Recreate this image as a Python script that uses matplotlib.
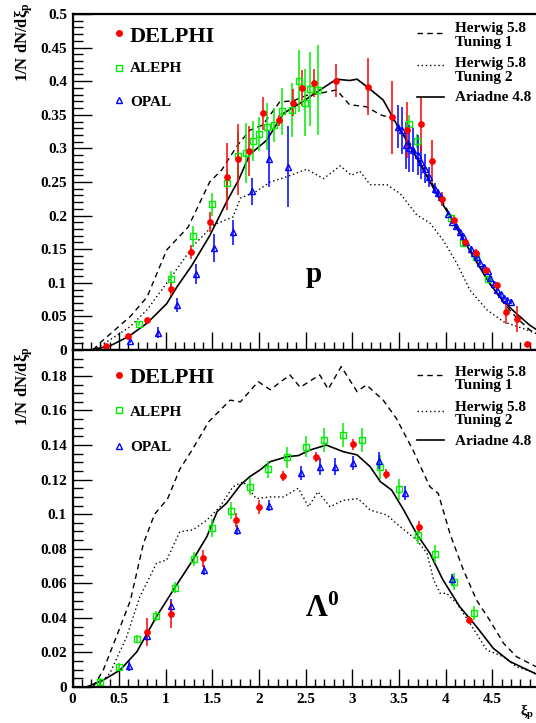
import matplotlib
matplotlib.use('Agg')
import matplotlib.pyplot as plt
from matplotlib.ticker import MultipleLocator, FuncFormatter

plt.rcParams['font.family'] = ['Liberation Serif', 'DejaVu Serif']
plt.rcParams['font.weight'] = 'bold'
plt.rcParams['mathtext.fontset'] = 'custom'
plt.rcParams['mathtext.rm'] = 'Liberation Serif:bold'
plt.rcParams['mathtext.it'] = 'Liberation Serif:italic:bold'
plt.rcParams['mathtext.bf'] = 'Liberation Serif:bold'

# ---------------- proton panel data ----------------
p_delphi_x = [0.36, 0.60, 0.80, 1.06, 1.27, 1.47, 1.66, 1.77, 1.89, 2.04, 2.21, 2.36, 2.46, 2.59, 2.82,
              3.17, 3.42, 3.59, 3.74, 3.85, 3.96, 4.09, 4.21, 4.32, 4.43, 4.55, 4.65, 4.76, 4.87]
p_delphi_y = [0.006, 0.021, 0.044, 0.091, 0.146, 0.190, 0.258, 0.284, 0.296, 0.352, 0.342, 0.368, 0.390, 0.397, 0.401,
              0.392, 0.346, 0.327, 0.336, 0.281, 0.225, 0.193, 0.160, 0.145, 0.119, 0.096, 0.056, 0.046, 0.009]
p_delphi_e = [0.003, 0.003, 0.004, 0.010, 0.010, 0.015, 0.050, 0.053, 0.037, 0.025, 0.008, 0.020, 0.027, 0.021, 0.025,
              0.042, 0.055, 0.042, 0.041, 0.031, 0.010, 0.006, 0.005, 0.005, 0.005, 0.005, 0.017, 0.019, 0.003]

p_aleph_x = [0.71, 1.06, 1.29, 1.49, 1.66, 1.77, 1.86, 1.93, 2.00, 2.08, 2.16, 2.25, 2.35, 2.43, 2.49, 2.55, 2.63,
             3.61, 3.69, 4.06, 4.19, 4.32, 4.45]
p_aleph_y = [0.039, 0.106, 0.169, 0.217, 0.248, 0.289, 0.293, 0.311, 0.321, 0.332, 0.335, 0.355, 0.357, 0.400, 0.368,
             0.389, 0.387, 0.337, 0.311, 0.197, 0.159, 0.139, 0.105]
p_aleph_e = [0.004, 0.012, 0.016, 0.017, 0.020, 0.035, 0.045, 0.030, 0.025, 0.035, 0.025, 0.035, 0.040, 0.046, 0.050,
             0.055, 0.067, 0.012, 0.010, 0.005, 0.005, 0.005, 0.005]

p_opal_x = [0.62, 0.92, 1.12, 1.32, 1.52, 1.72, 1.92, 2.11, 2.31, 3.49, 3.53, 3.57, 3.61, 3.65, 3.70, 3.74, 3.78,
            3.82, 3.89, 3.92, 3.95, 4.02, 4.07, 4.11, 4.15, 4.19, 4.22, 4.27, 4.30, 4.34, 4.37, 4.41, 4.45, 4.48,
            4.52, 4.55, 4.59, 4.62, 4.66, 4.70]
p_opal_y = [0.014, 0.026, 0.067, 0.113, 0.152, 0.175, 0.236, 0.284, 0.273, 0.332, 0.327, 0.305, 0.300, 0.298, 0.290,
            0.280, 0.270, 0.258, 0.240, 0.233, 0.228, 0.203, 0.191, 0.184, 0.176, 0.169, 0.161, 0.151, 0.144, 0.138,
            0.130, 0.124, 0.117, 0.107, 0.098, 0.090, 0.083, 0.078, 0.074, 0.072]
p_opal_e = [0.004, 0.008, 0.010, 0.015, 0.021, 0.019, 0.020, 0.042, 0.060, 0.032, 0.035, 0.035, 0.035, 0.033, 0.030,
            0.025, 0.022, 0.015, 0.008, 0.006, 0.005, 0.004, 0.004, 0.004, 0.004, 0.004, 0.004, 0.004, 0.004, 0.004,
            0.004, 0.004, 0.004, 0.004, 0.004, 0.004, 0.004, 0.004, 0.004, 0.004]

p_ari_x = [0.19, 0.40, 0.60, 0.80, 1.01, 1.12, 1.28, 1.47, 1.65, 1.78, 1.90, 2.08, 2.26, 2.47, 2.62, 2.83, 2.97,
           3.05, 3.19, 3.33, 3.47, 3.62, 3.76, 3.90, 4.05, 4.19, 4.33, 4.47, 4.62, 4.76, 4.90, 5.00]
p_ari_y = [0.0, 0.006, 0.020, 0.040, 0.069, 0.094, 0.126, 0.170, 0.220, 0.253, 0.291, 0.312, 0.352, 0.370, 0.384,
           0.403, 0.401, 0.403, 0.388, 0.372, 0.337, 0.303, 0.268, 0.233, 0.198, 0.164, 0.131, 0.099, 0.072, 0.054,
           0.037, 0.028]

p_hw1_x = [0.22, 0.29, 0.62, 0.80, 1.01, 1.24, 1.47, 1.60, 1.76, 1.90, 2.04, 2.22, 2.37, 2.51, 2.65, 2.83, 2.97,
           3.15, 3.30, 3.42, 3.62, 3.80, 3.90, 4.05, 4.19, 4.33, 4.47, 4.62, 4.76, 4.90, 5.00]
p_hw1_y = [0.0, 0.010, 0.050, 0.079, 0.149, 0.183, 0.250, 0.268, 0.303, 0.327, 0.335, 0.369, 0.371, 0.379, 0.382,
           0.387, 0.365, 0.362, 0.350, 0.345, 0.307, 0.260, 0.238, 0.200, 0.166, 0.133, 0.100, 0.070, 0.048, 0.030,
           0.022]

p_hw2_x = [0.22, 0.40, 0.62, 0.80, 1.06, 1.30, 1.51, 1.72, 1.80, 1.97, 2.12, 2.30, 2.51, 2.69, 2.87, 2.99, 3.08,
           3.19, 3.37, 3.51, 3.69, 3.83, 3.97, 4.12, 4.26, 4.44, 4.62, 4.83, 5.00]
p_hw2_y = [0.0, 0.015, 0.035, 0.060, 0.109, 0.156, 0.186, 0.198, 0.226, 0.236, 0.250, 0.258, 0.269, 0.255, 0.274,
           0.260, 0.266, 0.246, 0.246, 0.233, 0.201, 0.189, 0.164, 0.129, 0.089, 0.060, 0.042, 0.032, 0.023]

# ---------------- Lambda panel data ----------------
l_delphi_x = [0.80, 1.06, 1.40, 1.75, 2.00, 2.26, 2.61, 3.01, 3.36, 3.71, 4.25]
l_delphi_y = [0.032, 0.042, 0.0745, 0.0964, 0.104, 0.122, 0.133, 0.1404, 0.1233, 0.0928, 0.039]
l_delphi_e = [0.008, 0.0077, 0.005, 0.004, 0.004, 0.003, 0.003, 0.003, 0.003, 0.003, 0.002]

l_aleph_x = [0.29, 0.50, 0.69, 0.90, 1.10, 1.30, 1.50, 1.70, 1.90, 2.10, 2.30, 2.50, 2.70, 2.90, 3.10, 3.30, 3.50,
             3.70, 3.89, 4.09, 4.30]
l_aleph_y = [0.003, 0.0118, 0.028, 0.041, 0.0575, 0.074, 0.092, 0.102, 0.116, 0.126, 0.133, 0.139, 0.143, 0.146,
             0.143, 0.1275, 0.1144, 0.088, 0.077, 0.061, 0.043]
l_aleph_e = [0.002, 0.002, 0.002, 0.003, 0.003, 0.004, 0.005, 0.005, 0.005, 0.005, 0.006, 0.006, 0.007, 0.007,
             0.007, 0.007, 0.006, 0.005, 0.005, 0.005, 0.004]

l_opal_x = [0.61, 0.80, 1.06, 1.41, 1.76, 2.11, 2.45, 2.65, 2.81, 3.01, 3.29, 3.56, 4.07]
l_opal_y = [0.012, 0.0297, 0.047, 0.0677, 0.091, 0.105, 0.1237, 0.1275, 0.1275, 0.1298, 0.131, 0.1124, 0.0623]
l_opal_e = [0.003, 0.003, 0.004, 0.003, 0.003, 0.003, 0.004, 0.005, 0.005, 0.004, 0.005, 0.004, 0.003]

l_ari_x = [0.15, 0.33, 0.51, 0.69, 0.90, 1.08, 1.29, 1.44, 1.55, 1.65, 1.80, 1.90, 2.01, 2.12, 2.30, 2.42, 2.55,
           2.72, 2.90, 3.05, 3.19, 3.30, 3.42, 3.55, 3.69, 3.83, 3.97, 4.15, 4.33, 4.51, 4.69, 4.97, 5.00]
l_ari_y = [0.0, 0.004, 0.0098, 0.0204, 0.0407, 0.0561, 0.0735, 0.087, 0.1015, 0.1063, 0.1169, 0.1217, 0.1256,
           0.1304, 0.1333, 0.1339, 0.1372, 0.140, 0.1362, 0.1343, 0.1275, 0.1188, 0.114, 0.1024, 0.0885, 0.0774,
           0.062, 0.0465, 0.0349, 0.0224, 0.0147, 0.0075, 0.007]

l_hw1_x = [0.22, 0.33, 0.47, 0.62, 0.76, 0.88, 1.02, 1.15, 1.28, 1.46, 1.69, 1.80, 1.99, 2.12, 2.33, 2.44, 2.65,
           2.74, 2.88, 3.05, 3.15, 3.33, 3.47, 3.65, 3.83, 3.92, 4.05, 4.19, 4.33, 4.47, 4.62, 4.76, 4.97, 5.00]
l_hw1_y = [0.0, 0.0098, 0.029, 0.050, 0.083, 0.100, 0.109, 0.126, 0.137, 0.1535, 0.166, 0.165, 0.1767, 0.172,
           0.1806, 0.1734, 0.1806, 0.1723, 0.1854, 0.1709, 0.1748, 0.166, 0.1555, 0.137, 0.1159, 0.112, 0.088,
           0.0677, 0.0503, 0.0388, 0.0253, 0.0175, 0.0117, 0.011]

l_hw2_x = [0.26, 0.40, 0.58, 0.72, 0.90, 1.01, 1.15, 1.29, 1.44, 1.58, 1.72, 1.83, 1.97, 2.12, 2.26, 2.42, 2.53,
           2.63, 2.76, 2.90, 3.06, 3.19, 3.37, 3.51, 3.69, 3.80, 3.87, 3.94, 4.01, 4.12, 4.26, 4.44, 4.62, 4.76,
           4.97, 5.00]
l_hw2_y = [0.0, 0.0079, 0.029, 0.052, 0.0716, 0.0735, 0.0899, 0.0909, 0.0966, 0.1043, 0.1159, 0.1188, 0.109,
           0.110, 0.110, 0.115, 0.1043, 0.113, 0.1043, 0.108, 0.109, 0.1024, 0.0995, 0.0928, 0.085, 0.0774, 0.062,
           0.0542, 0.0542, 0.0484, 0.0369, 0.0214, 0.0175, 0.0117, 0.0079, 0.0077]

RED, GREEN, BLUE = '#ff0000', '#00ee00', '#0000ff'
W_PX, H_PX = 536, 723

fig = plt.figure(figsize=(W_PX / 100, H_PX / 100), dpi=100)
ax1 = fig.add_axes([72.5 / W_PX, 1 - 350 / H_PX, 466.5 / W_PX, 336 / H_PX])
ax2 = fig.add_axes([72.5 / W_PX, 1 - 687 / H_PX, 466.5 / W_PX, 337 / H_PX])


def fp(x, y):
    return (x / W_PX, 1 - y / H_PX)


fmt = FuncFormatter(lambda v, pos: '%g' % round(v, 4))
xfmt = FuncFormatter(lambda v, pos: '' if v > 4.75 else '%g' % round(v, 4))


def style(ax, ymax, ymaj, ymin, show_x):
    ax.set_xlim(0, 5)
    ax.set_ylim(0, ymax)
    ax.xaxis.set_major_locator(MultipleLocator(0.5))
    ax.xaxis.set_minor_locator(MultipleLocator(0.1))
    ax.yaxis.set_major_locator(MultipleLocator(ymaj))
    ax.yaxis.set_minor_locator(MultipleLocator(ymin))
    ax.xaxis.set_major_formatter(xfmt)
    ax.yaxis.set_major_formatter(fmt)
    ax.tick_params(axis='both', which='both', direction='in', top=False, right=False, width=1.0)
    ax.tick_params(axis='x', which='major', length=13, pad=4, labelsize=11, labelbottom=show_x)
    ax.tick_params(axis='x', which='minor', length=6)
    ax.tick_params(axis='y', which='major', length=13.5, pad=4, labelsize=11)
    ax.tick_params(axis='y', which='minor', length=7)
    for s in ax.spines.values():
        s.set_linewidth(1.6)
    for lab in ax.get_xticklabels() + ax.get_yticklabels():
        lab.set_fontweight('bold')


def draw(ax, dx, dy, de, ax_, ay_, ae_, ox, oy, oe, rx, ry, h1x, h1y, h2x, h2y):
    ax.plot(h1x, h1y, color='black', lw=1.0, ls=(0, (4, 3)))
    ax.plot(h2x, h2y, color='black', lw=1.0, ls=(0, (1, 2)))
    ax.plot(rx, ry, color='black', lw=1.2)
    ax.errorbar(ax_, ay_, yerr=ae_, fmt='s', color=GREEN, mfc='none', mec=GREEN, ms=4.5, mew=1.0,
                elinewidth=1.1, capsize=0)
    ax.errorbar(ox, oy, yerr=oe, fmt='^', color=BLUE, mfc='none', mec=BLUE, ms=5, mew=1.0,
                elinewidth=1.1, capsize=0)
    ax.errorbar(dx, dy, yerr=de, fmt='o', color=RED, mfc=RED, mec=RED, ms=4, mew=0.8,
                elinewidth=1.1, capsize=0)


style(ax1, 0.5, 0.05, 0.01, False)
style(ax2, 0.195, 0.02, 0.005, True)

draw(ax1, p_delphi_x, p_delphi_y, p_delphi_e, p_aleph_x, p_aleph_y, p_aleph_e, p_opal_x, p_opal_y, p_opal_e,
     p_ari_x, p_ari_y, p_hw1_x, p_hw1_y, p_hw2_x, p_hw2_y)
draw(ax2, l_delphi_x, l_delphi_y, l_delphi_e, l_aleph_x, l_aleph_y, l_aleph_e, l_opal_x, l_opal_y, l_opal_e,
     l_ari_x, l_ari_y, l_hw1_x, l_hw1_y, l_hw2_x, l_hw2_y)


# legends (positions in image pixels)
def left_legend(ym_d, yb_d, ym_a, yb_a, ym_o, yb_o):
    fig.lines.append(plt.Line2D(*zip(fp(119, ym_d)), transform=fig.transFigure, marker='o', color=RED, ms=4))
    fig.lines.append(plt.Line2D(*zip(fp(119, ym_a)), transform=fig.transFigure, marker='s', color=GREEN,
                                mfc='none', ms=4.5, mew=1.0))
    fig.lines.append(plt.Line2D(*zip(fp(119, ym_o)), transform=fig.transFigure, marker='^', color=BLUE,
                                mfc='none', ms=5, mew=1.0))
    fig.text(*fp(130, yb_d), 'DELPHI', fontsize=16, fontweight='bold', va='baseline')
    fig.text(*fp(130, yb_a), 'ALEPH', fontsize=11, fontweight='bold', va='baseline')
    fig.text(*fp(130, yb_o), 'OPAL', fontsize=11, fontweight='bold', va='baseline')


def right_legend(yl1, yl2, yl3, t1, t2, t3, t4, t5):
    for yl, ls in [(yl1, (0, (4, 3))), (yl2, (0, (1, 2))), (yl3, '-')]:
        a = fp(417, yl)
        b = fp(444, yl)
        fig.lines.append(plt.Line2D([a[0], b[0]], [a[1], b[1]], transform=fig.transFigure, color='black',
                                    lw=1.0 if ls != '-' else 1.2, ls=ls))
    for yb, s in [(t1, 'Herwig 5.8'), (t2, 'Tuning 1'), (t3, 'Herwig 5.8'), (t4, 'Tuning 2'), (t5, 'Ariadne 4.8')]:
        fig.text(*fp(455, yb), s, fontsize=11, fontweight='bold', va='baseline')


left_legend(33.3, 41.7, 67.7, 71.7, 100, 106)
left_legend(375, 383.3, 410, 416, 445.7, 450.7)
right_legend(33, 65, 97, 32.3, 46, 66.7, 80.7, 100.7)
right_legend(375, 410.7, 440, 376, 389.3, 410.7, 424, 445)

fig.text(*fp(314, 281.7), 'p', fontsize=21, fontweight='bold', ha='center', va='baseline')
fig.text(*fp(305, 617), r'$\Lambda^{0}$', fontsize=22, ha='left', va='baseline')

ylab = '1/N dN/dξ$_{\\mathbf{p}}$'
fig.text(*fp(24, 2), ylab, fontsize=12, fontweight='bold', rotation=90, ha='center', va='top')
fig.text(*fp(24, 346), ylab, fontsize=12, fontweight='bold', rotation=90, ha='center', va='top')
fig.text(*fp(520, 716), 'ξ$_{\\mathbf{p}}$', fontsize=11, fontweight='bold', ha='left', va='baseline')

fig.savefig('out.png', dpi=100)
